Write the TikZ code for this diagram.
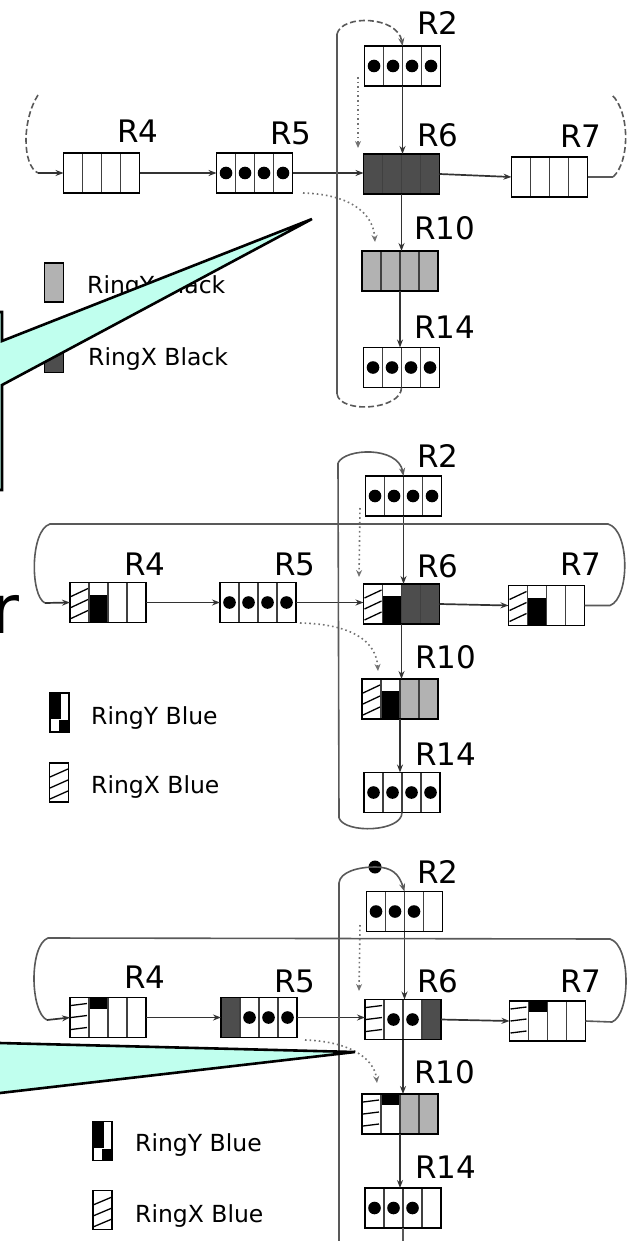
\documentclass[tikz,border=0pt]{standalone}
\usepackage{fontspec}
\setmainfont{DejaVu Sans}
\usetikzlibrary{arrows.meta}
\definecolor{lightg}{RGB}{178,178,178}
\definecolor{darkg}{RGB}{77,77,77}
\definecolor{callc}{RGB}{192,255,238}
\tikzset{
 rbox/.style={draw=none, fill=white, minimum width=76pt, minimum height=40pt, inner sep=0pt, outer sep=0pt},
 boxline/.style={draw=black, line width=1.6pt},
 divline/.style={draw=black!75, line width=1.2pt},
 hatch/.style={draw=black, line width=1.3pt},
 arr/.style={draw=black!80, line width=1.7pt, -{Stealth[length=8pt,width=6pt]}},
 ringline/.style={draw=black!65, line width=1.6pt},
 loopd/.style={ringline, dash pattern=on 6pt off 3pt},
 dotarr/.style={draw=black!55, line width=1.6pt, dash pattern=on 1.6pt off 3pt, -{Stealth[length=7pt,width=6pt]}},
 lab/.style={anchor=base west, inner sep=0pt, font=\fontsize{31}{31}\selectfont},
 legtext/.style={anchor=base west, inner sep=0pt, font=\fontsize{23.5}{24}\selectfont},
 legicon/.style={draw=none, minimum width=19pt, minimum height=39pt, inner sep=0pt, outer sep=0pt},
 callout/.style={fill=callc, draw=black, line width=2.6pt, line join=miter},
}
% cell painters: #1 left x, #2 top y
\newcommand\cellE[2]{}
\newcommand\cellD[2]{\fill (#1+9.5,#2+20) circle[radius=6.3];}
\newcommand\cellL[2]{\fill[lightg] (#1,#2) rectangle ++(19,40);}
\newcommand\cellK[2]{\fill[darkg] (#1,#2) rectangle ++(19,40);}
\newcommand\cellX[2]{\foreach \k in {0,1,2}{\draw[hatch] (#1+1,#2+14+11*\k) -- (#1+18,#2+6+11*\k);}}
\newcommand\cellH[2]{\foreach \k in {0,1,2}{\draw[hatch] (#1+1,#2+8+12*\k) -- (#1+17,#2+6+12*\k);}}
\newcommand\cellB[2]{\fill (#1,#2+12) rectangle ++(19,28);}
\newcommand\cellT[2]{\fill (#1,#2) rectangle ++(19,11);}
\newcommand\ringbox[7]{%
  \node[rbox] (#1) at (#2,#3) {};
  \foreach \t [count=\i from 0] in {#4,#5,#6,#7}{\csname cell\t\endcsname{#2-38+19*\i}{#3-20}}%
  \foreach \j in {1,2,3}{\draw[divline] (#2-38+19*\j,#3-20) -- ++(0,40);}%
  \draw[boxline] (#1.north west) rectangle (#1.south east);%
}
\newcommand\iconframe[1]{\draw[boxline] (#1.north west) rectangle (#1.south east);}
\begin{document}
\begin{tikzpicture}[x=1pt,y=-1pt]
\useasboundingbox (0,0) rectangle (631,1241);
\clip (0,0) rectangle (631,1241);

%%%%%%%%%%%%%%%% PANEL 1
\ringbox{p1r2}{402.5}{66}{D}{D}{D}{D}
\ringbox{p1r4}{101.5}{173}{E}{E}{E}{E}
\ringbox{p1r5}{254.5}{173}{D}{D}{D}{D}
\ringbox{p1r6}{401.5}{174}{K}{K}{K}{K}
\ringbox{p1r7}{549.5}{177}{E}{E}{E}{E}
\ringbox{p1r10}{400}{271}{L}{L}{L}{L}
\ringbox{p1r14}{401.5}{367.5}{D}{D}{D}{D}

\node[lab] (p1t2) at (417,35) {R2};
\node[lab] (p1t4) at (117,143) {R4};
\node[lab] (p1t5) at (270,145) {R5};
\node[lab] (p1t6) at (417,147) {R6};
\node[lab] (p1t7) at (560,148) {R7};
\node[lab] (p1t10) at (414,240) {R10};
\node[lab] (p1t14) at (414,338) {R14};

\draw[arr] (p1r4.east) -- (p1r5.west);
\draw[arr] (p1r5.east) -- (p1r5.east -| p1r6.west);
\draw[arr] (p1r6.east) -- (p1r7.west);
\draw[arr] (p1r2.south) -- (p1r2.south |- p1r6.north);
\draw[arr] (p1r6.south) -- (p1r6.south |- p1r10.north);
\draw[arr] (p1r10.south) -- (p1r10.south |- p1r14.north);

\coordinate (p1la) at (38,95);
\coordinate (p1lb) at (38,173);
\draw[loopd] (p1la) .. controls (22,120) and (22,165) .. (p1lb);
\draw[arr] (p1lb) -- (p1r4.west);
\coordinate (p1ra) at (613,177);
\coordinate (p1rb) at (612,95);
\draw[ringline] (p1r7.east) -- (p1ra);
\draw[loopd] (p1ra) .. controls (630,162) and (630,112) .. (p1rb);
\coordinate (p1vt) at (337,34);
\coordinate (p1vb) at (337,394);
\draw[loopd, -{Stealth[length=8pt,width=6pt]}] (p1vt) .. controls (342,14) and (398,16) .. (p1r2.north);
\draw[ringline] (p1vt) -- (p1vb);
\draw[loopd] (p1r14.south) .. controls (401.5,410) and (340,414) .. (p1vb);

\coordinate (p1da) at (358,77);
\coordinate (p1db) at (358,148);
\draw[dotarr] (p1da) -- (p1db);
\coordinate (p1dc) at (303,193);
\coordinate (p1dd) at (375,242);
\draw[dotarr] (p1dc) .. controls (345,194) and (373,210) .. (p1dd);

\node[legicon, fill=lightg] (p1k1) at (54,282.5) {}; \iconframe{p1k1}
\node[legtext] (p1g1) at (87,293) {RingY Black};
\node[legicon, fill=darkg] (p1k2) at (54,353) {}; \iconframe{p1k2}
\node[legtext] (p1g2) at (88,365) {RingX Black};

%%%%%%%%%%%%%%%% PANEL 2
\ringbox{p2r2}{403.5}{496}{D}{D}{D}{D}
\ringbox{p2r4}{108}{602.5}{X}{B}{E}{E}
\ringbox{p2r5}{258}{602.5}{D}{D}{D}{D}
\ringbox{p2r6}{401.5}{604}{X}{B}{K}{K}
\ringbox{p2r7}{546.5}{605.5}{X}{B}{E}{E}
\ringbox{p2r10}{400}{699}{X}{B}{L}{L}
\ringbox{p2r14}{402}{792.5}{D}{D}{D}{D}

\node[lab] (p2t2) at (417,467) {R2};
\node[lab] (p2t4) at (124,575) {R4};
\node[lab] (p2t5) at (274,575) {R5};
\node[lab] (p2t6) at (417,577) {R6};
\node[lab] (p2t7) at (560,575) {R7};
\node[lab] (p2t10) at (415,668) {R10};
\node[lab] (p2t14) at (415,765) {R14};

\draw[arr] (p2r4.east) -- (p2r5.west);
\draw[arr] (p2r5.east) -- (p2r5.east -| p2r6.west);
\draw[arr] (p2r6.east) -- (p2r7.west);
\draw[arr] (p2r2.south) -- (p2r2.south |- p2r6.north);
\draw[arr] (p2r6.south) -- (p2r6.south |- p2r10.north);
\draw[arr] (p2r10.south) -- (p2r10.south |- p2r14.north);

\coordinate (p2ra) at (610,605.5);
\coordinate (p2rb) at (608,524);
\coordinate (p2la) at (50,524);
\coordinate (p2lb) at (45,603);
\draw[ringline] (p2r7.east) -- (p2ra) .. controls (630,598) and (630,530) .. (p2rb) -- (p2la) .. controls (30,530) and (30,596) .. (p2lb);
\draw[arr] (p2lb) -- (p2r4.west);
\coordinate (p2vt) at (338,463);
\coordinate (p2vb) at (339,818);
\draw[ringline, -{Stealth[length=8pt,width=6pt]}] (p2vt) .. controls (345,448) and (398,446) .. (p2r2.north);
\draw[ringline] (p2vt) -- (p2vb);
\draw[ringline] (p2r14.south) .. controls (402,832) and (345,834) .. (p2vb);

\coordinate (p2da) at (360,508);
\coordinate (p2db) at (359,577);
\draw[dotarr] (p2da) -- (p2db);
\coordinate (p2dc) at (300,623);
\coordinate (p2dd) at (378,671);
\draw[dotarr] (p2dc) .. controls (350,624) and (376,640) .. (p2dd);

\node[legicon, fill=white] (p2k1) at (59.5,712.5) {};
\fill (50,693) rectangle ++(11,26);
\fill (59,720) rectangle (69,732);
\iconframe{p2k1}
\node[legtext] (p2g1) at (91,724) {RingY Blue};
\node[legicon, fill=white] (p2k2) at (59,782.5) {};
\foreach \k in {0,1,2}{\draw[hatch] (50,777+11*\k) -- (68,769+11*\k);}
\iconframe{p2k2}
\node[legtext] (p2g2) at (91,793) {RingX Blue};

%%%%%%%%%%%%%%%% PANEL 3
\ringbox{p3r2}{404.5}{911.5}{D}{D}{D}{E}
\ringbox{p3r4}{108}{1017.5}{H}{T}{E}{E}
\ringbox{p3r5}{259}{1017.5}{K}{D}{D}{D}
\ringbox{p3r6}{403}{1019.5}{H}{D}{D}{K}
\ringbox{p3r7}{547.5}{1021}{H}{T}{E}{E}
\ringbox{p3r10}{400}{1114}{H}{T}{L}{L}
\ringbox{p3r14}{403}{1208}{D}{D}{D}{E}

\node[lab] (p3t2) at (417,883) {R2};
\node[lab] (p3t4) at (124,988) {R4};
\node[lab] (p3t5) at (274,992) {R5};
\node[lab] (p3t6) at (417,992) {R6};
\node[lab] (p3t7) at (560,992) {R7};
\node[lab] (p3t10) at (414,1083) {R10};
\node[lab] (p3t14) at (415,1178) {R14};

\draw[arr] (p3r4.east) -- (p3r5.west);
\draw[arr] (p3r5.east) -- (p3r5.east -| p3r6.west);
\draw[arr] (p3r6.east) -- (p3r7.west);
\draw[arr] (p3r2.south) -- (p3r2.south |- p3r6.north);
\draw[arr] (p3r6.south) -- (p3r6.south |- p3r10.north);
\draw[arr] (p3r10.south) -- (p3r10.south |- p3r14.north);

\coordinate (p3ra) at (612,1022);
\coordinate (p3rb) at (610,939);
\coordinate (p3la) at (48,938);
\coordinate (p3lb) at (47,1020);
\draw[ringline] (p3r7.east) -- (p3ra) .. controls (631,1014) and (631,945) .. (p3rb) -- (p3la) .. controls (29,945) and (30,1012) .. (p3lb);
\draw[arr] (p3lb) -- (p3r4.west);
\coordinate (p3vt) at (339,883);
\coordinate (p3vb) at (339,1250);
\coordinate (p3vc) at (403,1250);
\node[circle, fill=black, inner sep=0pt, minimum size=13pt] (p3tok) at (375,867) {};
\draw[ringline] (p3vt) .. controls (340,872) and (358,867) .. (p3tok.center);
\draw[ringline, -{Stealth[length=8pt,width=6pt]}] (p3tok.center) .. controls (392,867) and (399,874) .. (p3r2.north);
\draw[ringline] (p3vt) -- (p3vb);
\draw[ringline] (p3r14.south) -- (p3vc);

\coordinate (p3da) at (360,925);
\coordinate (p3db) at (359,991);
\draw[dotarr] (p3da) -- (p3db);
\coordinate (p3dc) at (305,1040);
\coordinate (p3dd) at (377,1083);
\draw[dotarr] (p3dc) .. controls (345,1041) and (374,1056) .. (p3dd);

\node[legicon, fill=white] (p3k1) at (102.5,1141) {};
\fill (93,1122) rectangle ++(11,26);
\fill (102,1149) rectangle (112,1160);
\iconframe{p3k1}
\node[legtext] (p3g1) at (135,1151) {RingY Blue};
\node[legicon, fill=white] (p3k2) at (102.5,1210) {};
\foreach \k in {0,1,2}{\draw[hatch] (93,1205+11*\k) -- (112,1197+11*\k);}
\iconframe{p3k2}
\node[legtext] (p3g2) at (135,1222) {RingX Blue};

%%%%%%%%%%%%%%%% callouts and cut text
\draw[callout] (-30,312) -- (2,312) -- (2,341) -- (312,219) -- (2,385) -- (2,490) -- (-30,490) -- cycle;
\node[anchor=base west, inner sep=0pt, font=\fontsize{68}{68}\selectfont] (bigr) at (-8.5,633) {r};
\draw[callout] (-20,1042.5) -- (355,1052) -- (-20,1095.3) -- cycle;
\end{tikzpicture}
\end{document}
